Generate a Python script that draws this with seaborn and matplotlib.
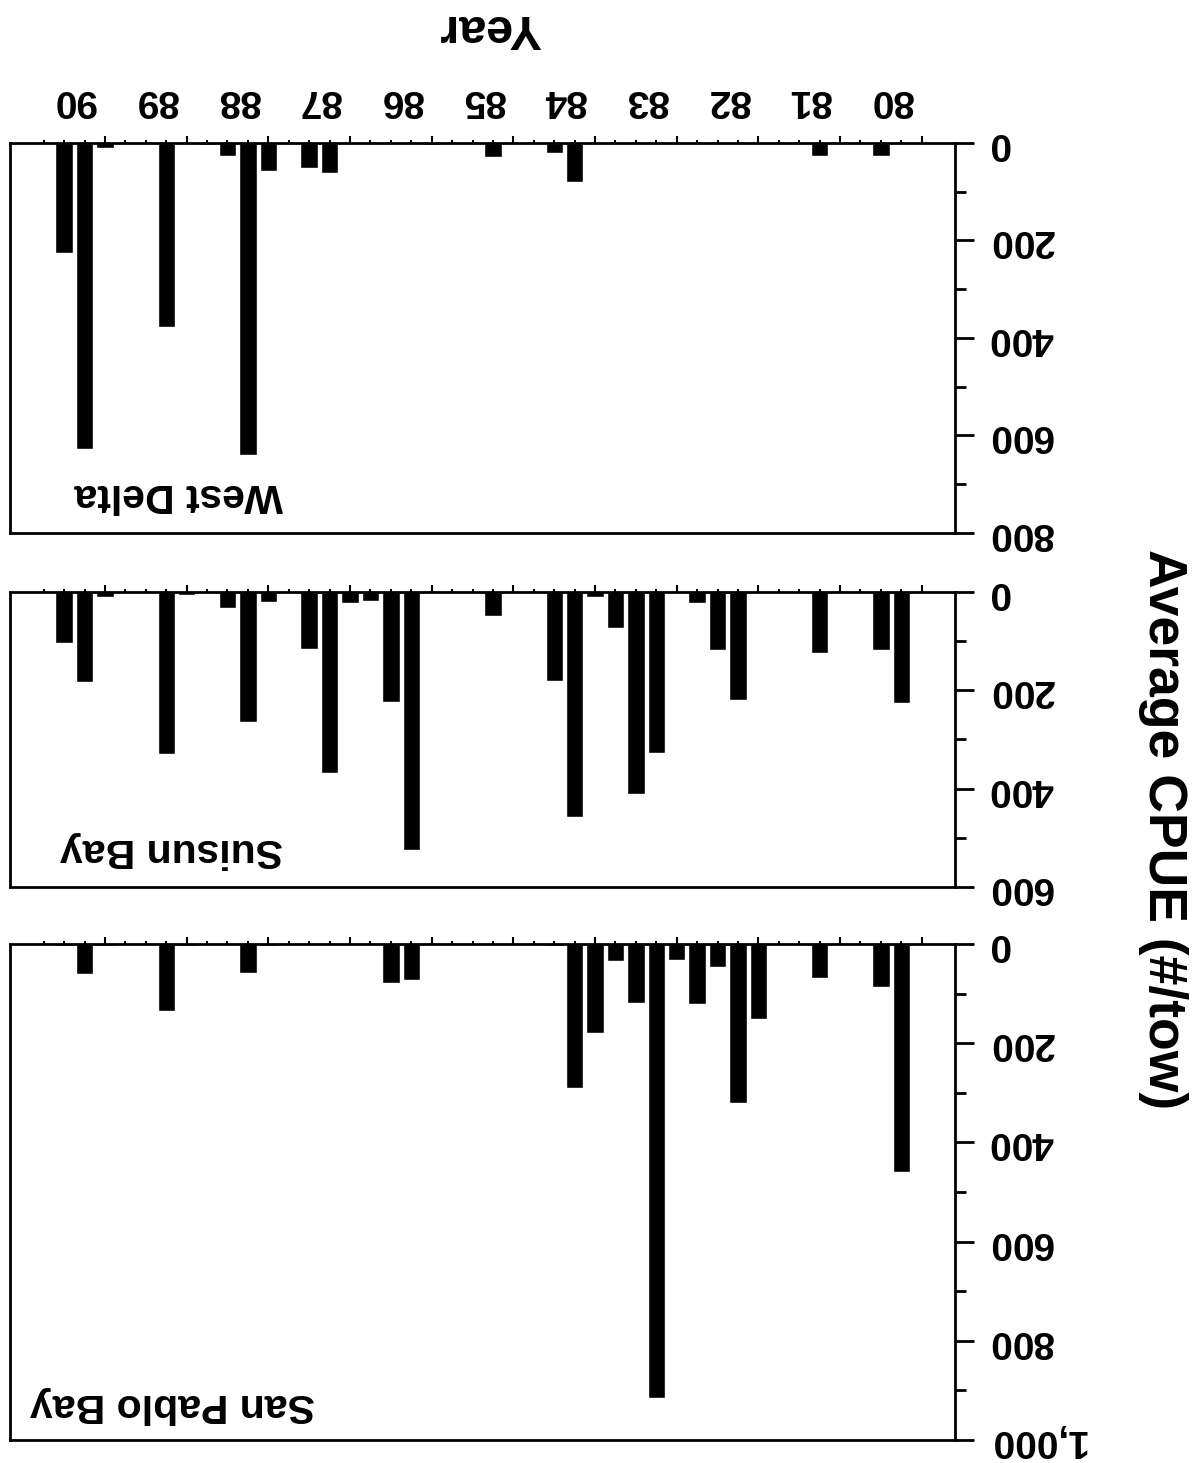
import pandas as pd
import matplotlib
matplotlib.use("Agg")
import matplotlib.pyplot as plt
from matplotlib.ticker import FixedLocator, MultipleLocator, FuncFormatter, NullFormatter
import seaborn as sns

# Data: average CPUE (#/tow) by quarter, 1980-1990 (4 values per year, Q1..Q4)
years = list(range(80, 91))

west_delta = [
    0, 0, 26, 0,        # 80
    0, 26, 3, 0,        # 81
    0, 0, 0, 0,         # 82
    2, 0, 2, 0,         # 83
    0, 80, 21, 0,       # 84
    0, 28, 0, 3,        # 85
    4, 0, 0, 3,         # 86
    0, 61, 51, 0,       # 87
    57, 640, 27, 5,     # 88
    0, 377, 0, 0,       # 89
    10, 628, 226, 0,    # 90
]
suisun_bay = [
    0, 226, 118, 0,
    0, 124, 0, 0,
    0, 220, 119, 22,
    0, 327, 410, 73,
    10, 457, 181, 0,
    0, 49, 0, 0,
    0, 525, 223, 18,
    23, 369, 116, 0,
    20, 264, 32, 0,
    6, 329, 0, 0,
    10, 183, 104, 0,
]
san_pablo_bay = [
    0, 459, 86, 0,
    0, 68, 0, 0,
    151, 320, 46, 121,
    32, 915, 118, 34,
    179, 291, 3, 0,
    0, 0, 0, 0,
    0, 73, 78, 0,
    0, 0, 0, 2,
    3, 58, 2, 0,
    3, 135, 0, 0,
    3, 60, 3, 0,
]

sites = ["West Delta", "Suisun Bay", "San Pablo Bay"]
site_values = [west_delta, suisun_bay, san_pablo_bay]
y_max = [800, 600, 1000]

periods = [f"{y}-Q{q}" for y in years for q in range(1, 5)]
rows = []
for name, vals in zip(sites, site_values):
    for p, v in zip(periods, vals):
        rows.append({"site": name, "period": p, "cpue": v})
df = pd.DataFrame(rows)

sns.set_theme(style="ticks")
plt.rcParams["font.family"] = ["Liberation Sans", "DejaVu Sans"]
plt.rcParams["font.weight"] = "bold"
plt.rcParams["text.color"] = "black"
plt.rcParams["xtick.color"] = "black"
plt.rcParams["ytick.color"] = "black"
plt.rcParams["xtick.labelcolor"] = "black"
plt.rcParams["ytick.labelcolor"] = "black"

fig = plt.figure(figsize=(11.93, 14.63), dpi=100)

# axes rectangles (left, bottom, width, height) in figure fraction
rects = [
    [0.0084, 0.6357, 0.7921, 0.2666],
    [0.0084, 0.3937, 0.7921, 0.2017],
    [0.0084, 0.0157, 0.7921, 0.3390],
]
label_pos = [(0.289, 0.097), (0.289, 0.125), (0.323, 0.07)]

for i, (name, ymax, rect) in enumerate(zip(sites, y_max, rects)):
    ax = fig.add_axes(rect)
    sns.barplot(data=df[df.site == name], x="period", y="cpue", order=periods,
                color="black", saturation=1, width=0.85, ax=ax)
    ax.set_xlim(44.65, -1.63)
    ax.set_ylim(ymax, 0)
    ax.set_xlabel("")
    ax.set_ylabel("")

    ax.xaxis.tick_top()
    ax.xaxis.set_major_locator(FixedLocator(range(0, 44, 4)))
    ax.xaxis.set_minor_locator(FixedLocator(range(44)))
    ax.xaxis.set_major_formatter(NullFormatter())
    ax.tick_params(axis="x", which="major", length=5, width=1.5, color="black")
    ax.tick_params(axis="x", which="minor", length=2.5, width=1.5, color="black")

    ax.yaxis.tick_right()
    ax.yaxis.set_major_locator(MultipleLocator(200))
    ax.yaxis.set_minor_locator(MultipleLocator(100))
    ax.yaxis.set_major_formatter(FuncFormatter(lambda v, p: f"{v:,.0f}"))
    ax.tick_params(axis="y", which="major", length=14, width=2, color="black",
                   labelcolor="black", labelsize=28, pad=10, labelrotation=180)
    ax.tick_params(axis="y", which="minor", length=8, width=2, color="black")
    plt.setp(ax.get_yticklabels(), va="center")

    for s in ax.spines.values():
        s.set_visible(True)
        s.set_linewidth(2)
        s.set_color("black")

    ax.text(label_pos[i][0], label_pos[i][1], name, transform=ax.transAxes,
            rotation=180, ha="right", va="center", fontsize=29.5, color="black")

    if i == 0:
        sec = ax.secondary_xaxis("top")
        sec.set_xticks([4 * k + 1.5 for k in range(len(years))],
                       labels=[str(y) for y in years])
        sec.tick_params(length=0, pad=18, labelsize=28, labelrotation=180,
                        labelcolor="black")
        sec.spines["top"].set_visible(False)

fig.text(0.411, 0.981, "Year", rotation=180, ha="center", va="center",
         fontsize=35, color="black")
fig.text(0.975, 0.433, "Average CPUE (#/tow)", rotation=270, ha="center",
         va="center", fontsize=38.5, color="black")

fig.savefig("out.png", dpi=100)
